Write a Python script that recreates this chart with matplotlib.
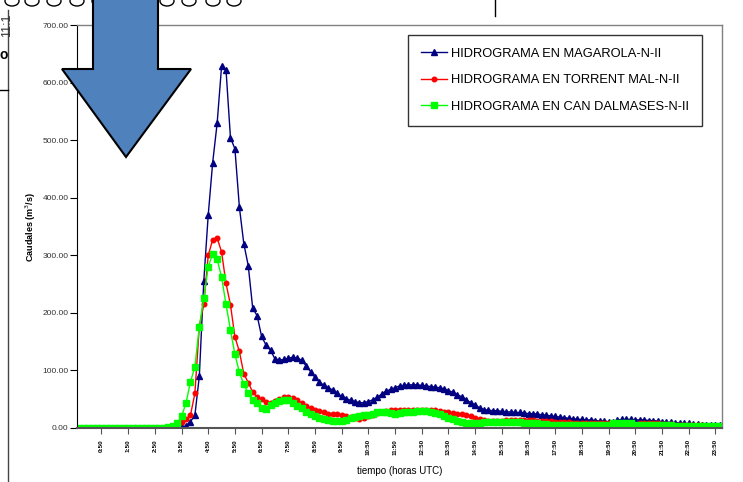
import matplotlib.pyplot as plt
import numpy as np
from matplotlib.patches import Ellipse, Polygon

# caudales cada 10 minutos desde las 0:00 (m3/s)
magarola = [
    0, 0, 0, 0, 0, 0, 0, 0, 0, 0, 0, 0,
    0, 0, 0, 0, 0, 0, 0, 0, 0, 0, 0, 1,
    4, 11, 22, 90, 255, 370, 461, 529, 628, 622, 504, 485,
    384, 320, 282, 208, 195, 159, 144, 135, 120, 118, 119, 121,
    123, 121, 118, 108, 98, 88, 80, 74, 70, 66, 60, 55,
    51, 48, 46, 44, 44, 46, 49, 53, 59, 64, 67, 70,
    73, 74, 75, 75, 75, 74, 73, 72, 71, 70, 68, 65,
    62, 58, 54, 49, 44, 40, 35, 32, 31, 30, 30, 29,
    28, 28, 27, 27, 26, 25, 25, 24, 23, 22, 21, 20,
    19, 18, 17, 16, 15, 15, 14, 14, 13, 12, 12, 11,
    11, 14, 15, 15, 15, 14, 14, 14, 13, 13, 12, 11,
    10, 10, 9, 9, 8, 8, 7, 7, 6, 6, 6, 6,
    5,
]
torrent_mal = [
    0, 0, 0, 0, 0, 0, 0, 0, 0, 0, 0, 0,
    0, 0, 0, 0, 0, 0, 0, 0, 0, 3, 6, 10,
    15, 22, 60, 177, 215, 300, 327, 330, 306, 251, 214, 158,
    133, 94, 79, 62, 54, 50, 46, 44, 47, 51, 53, 54,
    52, 48, 43, 38, 34, 31, 29, 27, 25, 24, 24, 23,
    21, 19, 17, 15, 17, 20, 23, 26, 28, 30, 31, 32,
    32, 32, 32, 32, 32, 32, 32, 32, 31, 30, 28, 27,
    26, 25, 24, 23, 20, 17, 15, 14, 13, 13, 13, 13,
    14, 14, 14, 14, 14, 14, 14, 13, 12, 12, 12, 11,
    11, 11, 10, 9, 9, 8, 8, 8, 8, 8, 8, 8,
    4, 1, 1, 1, 1, 5, 9, 9, 8, 8, 8, 7,
    7, 7, 6, 6, 6, 5, 5, 5, 5, 4, 4, 4,
    4,
]
can_dalmases = [
    0, 0, 0, 0, 0, 0, 0, 0, 0, 0, 0, 0,
    0, 0, 0, 0, 0, 0, 0, 0, 1, 3, 8, 20,
    43, 80, 106, 176, 225, 280, 303, 293, 262, 215, 170, 128,
    97, 76, 60, 49, 43, 34, 33, 40, 44, 47, 49, 48,
    44, 38, 34, 28, 24, 20, 17, 15, 14, 13, 13, 13,
    14, 17, 19, 21, 22, 23, 25, 27, 28, 27, 26, 25,
    26, 27, 28, 28, 29, 30, 29, 28, 26, 24, 21, 18,
    16, 13, 11, 9, 9, 9, 9, 10, 10, 11, 11, 11,
    11, 11, 10, 10, 9, 9, 8, 8, 7, 7, 6, 6,
    5, 5, 5, 5, 5, 5, 5, 5, 5, 5, 5, 5,
    8, 8, 8, 8, 8, 6, 5, 5, 5, 5, 5, 5,
    5, 5, 4, 4, 4, 4, 4, 4, 4, 4, 4, 4,
    3,
]
series_names = [
    "HIDROGRAMA EN MAGAROLA-N-II",
    "HIDROGRAMA EN TORRENT MAL-N-II",
    "HIDROGRAMA EN CAN DALMASES-N-II",
]
hour_labels = ["%d:50" % h for h in range(24)]
y_ticks = [0, 100, 200, 300, 400, 500, 600, 700]

W, H = 743, 482
fig = plt.figure(figsize=(W / 100, H / 100), dpi=100)
plt.rcParams["font.family"] = ["Liberation Sans", "DejaVu Sans"]


def fx(px):
    return px / W


def fy(py):
    return 1 - py / H


ax = fig.add_axes([fx(77), fy(428), fx(722) - fx(77), fy(25) - fy(428)])

step = np.arange(len(magarola))
ax.plot(step, magarola, color="#000080", lw=1, marker="^", ms=4.5,
        label=series_names[0])
ax.plot(step, torrent_mal, color="#ff0000", lw=1, marker="o", ms=3.3,
        label=series_names[1])
ax.plot(step, can_dalmases, color="#00ff00", lw=1, marker="s", ms=3.8,
        label=series_names[2])

ax.set_xlim(-0.5, len(magarola) - 0.5)
ax.set_ylim(0, 700)
ax.set_yticks(y_ticks)
ax.set_yticklabels(["%.2f" % v for v in y_ticks], fontsize=6, color="#333333")
ax.set_xticks(5 + 6 * np.arange(len(hour_labels)))
ax.set_xticklabels(hour_labels, rotation=90, fontsize=4.5, fontweight="bold",
                   va="top")
ax.tick_params(axis="y", length=5, width=0.8, pad=1)
ax.tick_params(axis="x", length=4, width=0.8, color="#555555", pad=4)

ax.spines["left"].set_color("black")
ax.spines["bottom"].set_color("#555555")
ax.spines["bottom"].set_linewidth(1.5)
for s in ("top", "right"):
    ax.spines[s].set_color("#808080")
    ax.spines[s].set_linewidth(1)

ax.set_xlabel("tiempo (horas UTC)", fontsize=7, labelpad=8)
ax.set_ylabel("Caudales (m$^3$/s)", fontsize=6.5, fontweight="bold", labelpad=3)

leg = ax.legend(loc="upper left", bbox_to_anchor=(fx(408), fy(35)),
                bbox_transform=fig.transFigure, fontsize=9.3, frameon=True,
                fancybox=False, edgecolor="black", borderaxespad=0,
                handlelength=2.0, handletextpad=0.35, labelspacing=1.12,
                borderpad=1.0)
leg.get_frame().set_linewidth(1)

# capa superior: flecha y restos del marco
deco = fig.add_axes([0, 0, 1, 1], zorder=5)
deco.patch.set_alpha(0)
deco.set_xlim(0, W)
deco.set_ylim(H, 0)
deco.axis("off")

for cx in [12, 32, 54, 77, 99, 122, 144, 167, 189, 213, 234]:
    deco.add_patch(Ellipse((cx, 1), 14, 10, fill=False, lw=1, ec="black"))
deco.plot([8, 8], [10, H], color="#444444", lw=1)
deco.plot([0, 8], [90, 90], color="black", lw=1)
deco.plot([495, 495], [0, 16], color="black", lw=1)
deco.text(1, 25, "11:1", rotation=90, fontsize=9, ha="left", va="center",
          color="#333333")
deco.text(0, 55, "o", fontsize=10, fontweight="bold", ha="left", va="center")

arrow = Polygon([(93, -2), (158, -2), (158, 69), (191, 69), (126, 157),
                 (62, 69), (93, 69)], closed=True, fc="#4f81bd", ec="black",
                lw=1.5)
deco.add_patch(arrow)

fig.savefig("out.png", dpi=100)
